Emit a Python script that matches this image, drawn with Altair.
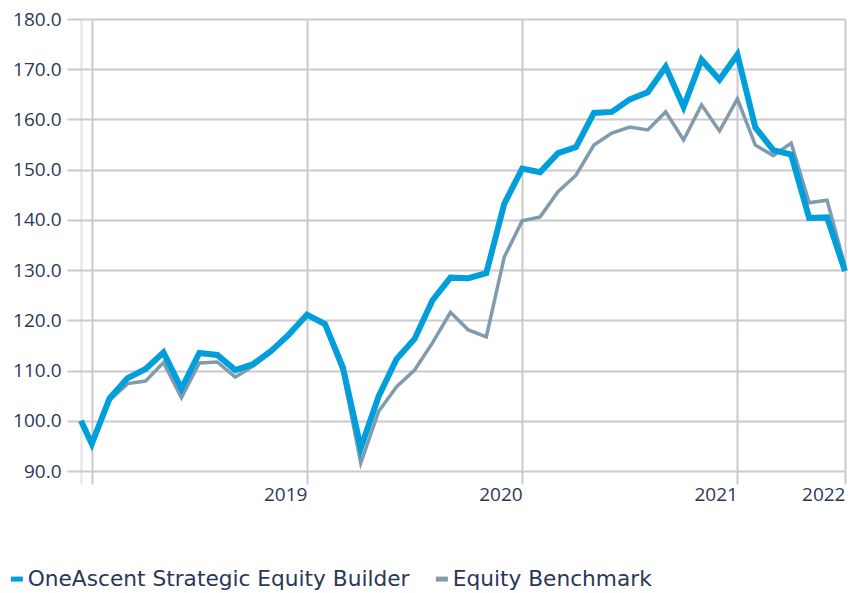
import altair as alt
import pandas as pd

# month offsets (0 = Jan 2018); first point is the inception a bit before
month_index = [-0.6] + list(range(0, 43))

fund = [100.0, 95.4, 104.5, 108.5, 110.3, 113.6, 106.4, 113.5, 113.1, 110.1, 111.3, 113.9,
        117.2, 121.1, 119.3, 110.7, 94.6, 104.9, 112.3, 116.3, 124.0, 128.5, 128.4, 129.4,
        143.2, 150.2, 149.5, 153.3, 154.5, 161.3, 161.5, 164.0, 165.4, 170.5, 162.5, 171.9,
        167.9, 172.9, 158.4, 153.9, 153.0, 140.4, 140.5, 129.8]
bench = [100.0, 95.6, 104.1, 107.4, 107.9, 111.6, 104.6, 111.5, 111.7, 108.7, 110.9, 113.6,
         117.0, 121.0, 118.9, 109.7, 91.6, 101.9, 106.8, 110.1, 115.5, 121.6, 118.1, 116.7,
         132.6, 139.8, 140.6, 145.6, 148.9, 154.9, 157.3, 158.5, 157.9, 161.5, 155.9, 162.9,
         157.7, 164.1, 154.9, 152.8, 155.3, 143.4, 143.9, 130.8]

series_names = ["OneAscent Strategic Equity Builder", "Equity Benchmark"]
series_colors = ["#009fdc", "#7f9bad"]

x_ticks = [-0.6, 0, 12, 24, 36, 42]
x_labels = {12: "2019", 24: "2020", 36: "2021", 42: "2022"}
y_ticks = [90, 100, 110, 120, 130, 140, 150, 160, 170, 180]

df_fund = pd.DataFrame({"m": month_index, "v": fund, "s": series_names[0]})
df_bench = pd.DataFrame({"m": month_index, "v": bench, "s": series_names[1]})

label_expr = " : ".join([f"datum.value == {k} ? '{v}\u2009\u2009'" for k, v in x_labels.items()]) + " : ''"

FONT = "Open Sans"
LEG_FONT = "DejaVu Sans"
TXT = "#2a3858"
GRID = "#c9c9cf"

x_enc = alt.X("m:Q",
              scale=alt.Scale(domain=[-0.6, 42], nice=False, zero=False),
              axis=alt.Axis(values=x_ticks, labelExpr=label_expr, title=None,
                            grid=True,
                            gridColor={"condition": {"test": "datum.value < 0", "value": "#e4e4e7"}, "value": GRID},
                            tickColor={"condition": {"test": "datum.value < 0", "value": "#e4e4e7"}, "value": GRID},
                            gridWidth=2, tickWidth=2, tickSize=13, domain=False,
                            labelAlign="right", labelPadding=1,
                            labelFont=FONT, labelFontSize=19, labelColor=TXT))
y_enc = alt.Y("v:Q",
              scale=alt.Scale(domain=[90, 180], nice=False, zero=False),
              axis=alt.Axis(values=y_ticks, format=".1f", title=None, grid=True,
                            gridColor=GRID, gridWidth=2, tickColor=GRID, tickWidth=2,
                            tickSize=14, domain=False, labelPadding=6,
                            labelFont=FONT, labelFontSize=19, labelColor=TXT))
color_enc = alt.Color("s:N",
                      scale=alt.Scale(domain=series_names, range=series_colors),
                      legend=alt.Legend(orient="none", direction="horizontal", title=None,
                                        legendX=-75, legendY=549,
                                        symbolType="M-1,0L1,0",
                                        symbolSize=144, symbolStrokeWidth=5,
                                        labelFont=LEG_FONT, labelFontSize=21.7, labelColor=TXT,
                                        labelLimit=0, labelOffset=0, columnPadding=15))

bench_line = alt.Chart(df_bench).mark_line(strokeWidth=3.5).encode(x=x_enc, y=y_enc, color=color_enc)
fund_line = alt.Chart(df_fund).mark_line(strokeWidth=6).encode(x=x_enc, y=y_enc, color=color_enc)

chart = alt.layer(bench_line, fund_line).properties(
    width=764, height=452,
    autosize=alt.AutoSizeParams(type="none"),
    padding={"left": 73, "top": 11, "right": 3, "bottom": 120},
).configure_view(stroke=None).configure(background="white")

chart.save("out.html", embed_options={"renderer": "svg", "actions": False})
